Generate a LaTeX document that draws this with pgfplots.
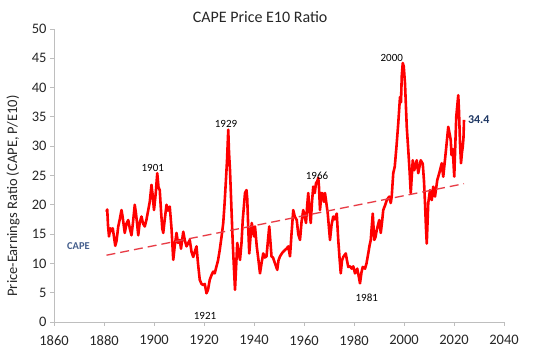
\documentclass[border=0pt]{standalone}
\usepackage{fontspec}
\setmainfont{Carlito}
\usepackage{pgfplots}
\pgfplotsset{compat=1.18}
\definecolor{capered}{RGB}{255,0,0}
\definecolor{trendred}{RGB}{232,60,70}
\definecolor{capeblue}{RGB}{68,94,140}
\definecolor{navy}{RGB}{31,56,100}
\definecolor{axgray}{RGB}{190,190,190}
\begin{document}
\begin{tikzpicture}
\path[use as bounding box] (0,0) rectangle (540pt,352pt);
\begin{axis}[
 at={(54pt,30pt)}, anchor=south west,
 scale only axis, width=450pt, height=293pt,
 xmin=1860,xmax=2040,ymin=0,ymax=50,
 axis x line*=bottom, axis y line*=left,
 axis line style={axgray, line width=0.8pt, -},
 xtick={1860,1880,...,2040}, ytick={0,5,...,50},
 tick align=outside, major tick length=4pt,
 tick style={axgray, line width=0.8pt},
 /pgf/number format/assume math mode=true,
 /pgf/number format/1000 sep={},
 tick label style={font=\fontsize{14.5}{16}\selectfont, text=black!85},
 x tick label style={yshift=-6pt},
 clip=false,
]
\addplot[capered, line width=2.6pt, line join=round] coordinates {
(1881.0,18.8) (1881.3,19.2) (1881.6,16.5) (1882.0,14.6) (1882.5,16.0) (1883.0,15.5)
(1883.5,16.0) (1884.0,14.5) (1884.5,13.0) (1885.0,13.8) (1885.7,16.3) (1886.3,17.5)
(1887.0,19.1) (1887.5,17.8) (1888.3,15.2) (1889.0,16.8) (1889.7,17.4) (1890.3,16.0)
(1891.0,14.8) (1891.6,17.0) (1892.3,20.0) (1892.8,18.5) (1893.3,16.5) (1893.7,14.8)
(1894.3,17.0) (1895.0,18.0) (1895.6,16.8) (1896.3,16.3) (1897.0,17.5) (1897.7,19.1)
(1898.3,20.5) (1899.0,23.4) (1899.5,21.5) (1900.0,19.1) (1900.7,22.0) (1901.3,25.4)
(1901.8,23.0) (1902.3,22.5) (1902.8,19.0) (1903.3,16.0) (1903.7,15.2) (1904.3,17.5)
(1905.0,20.0) (1905.6,19.0) (1906.3,19.7) (1907.0,16.0) (1907.7,10.6) (1908.3,13.0)
(1909.0,15.2) (1909.6,13.5) (1910.3,14.0) (1910.8,12.5) (1911.7,15.4) (1912.3,14.0)
(1913.0,12.9) (1913.7,13.5) (1914.3,14.0) (1915.0,12.0) (1915.7,11.1) (1916.3,12.0)
(1917.0,12.9) (1917.6,10.0) (1918.3,7.2) (1919.0,6.5) (1919.7,6.3) (1920.3,6.5)
(1921.0,4.9) (1921.6,5.5) (1922.3,7.2) (1923.0,8.0) (1923.7,8.6) (1924.3,8.3)
(1925.0,9.5) (1925.6,10.5) (1926.3,12.3) (1927.0,14.5) (1927.7,16.9) (1928.2,20.0)
(1928.7,23.7) (1929.2,27.5) (1929.7,32.8) (1930.0,29.0) (1930.4,25.9) (1931.0,19.1)
(1931.5,13.5) (1932.0,9.0) (1932.4,5.5) (1932.8,9.0) (1933.3,13.5) (1933.8,12.0)
(1934.4,10.6) (1935.0,13.5) (1935.5,17.4) (1936.4,22.0) (1937.0,22.5) (1937.3,21.0)
(1937.7,16.0) (1938.1,11.7) (1938.6,14.5) (1939.1,16.9) (1940.0,14.6) (1940.4,16.3)
(1941.1,12.9) (1941.8,10.5) (1942.4,8.3) (1943.0,10.0) (1943.7,11.7) (1944.3,11.0)
(1945.0,11.2) (1945.6,14.0) (1946.1,16.3) (1946.6,13.5) (1947.0,11.2) (1947.6,11.0)
(1948.4,10.0) (1949.3,8.9) (1949.8,10.5) (1950.4,11.2) (1951.3,11.8) (1952.4,12.3)
(1953.0,12.5) (1953.7,12.9) (1954.4,11.2) (1955.0,15.0) (1955.7,19.1) (1956.3,18.0)
(1957.1,17.4) (1957.7,15.0) (1958.4,14.0) (1959.0,17.0) (1959.7,19.1) (1960.3,18.0)
(1960.8,16.9) (1961.3,20.0) (1961.7,22.0) (1962.2,19.0) (1962.7,16.9) (1963.2,20.5)
(1963.7,23.1) (1964.3,22.0) (1964.8,23.7) (1965.3,24.0) (1965.7,24.6) (1966.0,23.0)
(1966.4,19.1) (1967.0,22.0) (1967.5,21.9) (1968.0,20.5) (1968.4,22.0) (1969.0,20.1)
(1969.5,18.5) (1970.0,16.0) (1970.4,14.0) (1971.0,16.5) (1971.7,18.0) (1972.3,17.5)
(1973.1,18.5) (1973.7,14.0) (1974.2,11.0) (1974.7,8.3) (1975.2,10.5) (1975.7,11.1)
(1976.7,11.7) (1977.2,10.5) (1977.7,9.4) (1978.4,9.5) (1979.1,9.1) (1979.7,9.5)
(1980.4,8.3) (1981.3,9.1) (1981.8,8.0) (1982.4,6.6) (1983.0,8.5) (1983.5,9.4)
(1984.4,9.1) (1985.0,10.0) (1985.7,11.7) (1986.2,13.0) (1986.7,14.0) (1987.5,18.5)
(1988.1,14.0) (1988.6,14.5) (1989.1,15.7) (1990.1,17.4) (1990.7,15.2) (1991.2,17.0)
(1991.7,19.1) (1992.5,20.0) (1993.1,20.8) (1994.1,21.4) (1994.7,20.3) (1995.1,21.5)
(1995.7,25.4) (1996.3,26.5) (1997.0,30.0) (1997.7,33.9) (1998.4,38.4) (1998.8,37.5)
(1999.1,42.0) (1999.5,44.2) (1999.9,43.6) (2000.4,40.7) (2001.1,33.3) (2001.7,29.4)
(2002.2,26.0) (2002.7,22.0) (2003.5,27.6) (2004.1,25.9) (2005.1,27.6) (2005.7,25.4)
(2006.7,27.6) (2007.5,27.0) (2008.0,24.0) (2008.4,20.3) (2008.8,16.0) (2009.1,13.4)
(2009.7,20.3) (2010.4,22.5) (2011.1,20.8) (2011.7,23.1) (2012.4,21.4) (2013.3,24.2)
(2014.1,25.4) (2015.1,27.1) (2015.7,24.8) (2016.8,29.4) (2017.7,33.3) (2018.3,32.0)
(2018.7,31.0) (2019.0,28.5) (2019.5,29.5) (2020.1,24.8) (2020.5,30.0) (2020.9,35.0)
(2021.7,38.7) (2022.0,36.0) (2022.4,30.5) (2022.8,27.1) (2023.2,29.0) (2023.5,29.9)
(2023.8,31.5) (2024.0,34.5)
};
\addplot[trendred, line width=1.3pt, dash pattern=on 9pt off 5pt] coordinates {(1881,11.4) (2024,23.6)};
\node[font=\fontsize{16}{18}\selectfont, text=black!85] at (axis description cs:0.458,1.041) {CAPE Price E10 Ratio};
\node[rotate=90, font=\fontsize{14.5}{16}\selectfont, text=black!85] at (axis description cs:-0.091,0.43) {Price-Earnings Ratio (CAPE, P/E10)};
\node[font=\bfseries\fontsize{10.5}{12}\selectfont, text=capeblue] at (axis cs:1869.8,12.9) {CAPE};
\node[font=\bfseries\fontsize{12}{14}\selectfont, text=navy, anchor=west] at (axis cs:2024.2,34.6) {34.4};
\node[font=\fontsize{11}{13}\selectfont] at (axis cs:1899.5,26.2) {1901};
\node[font=\fontsize{11}{13}\selectfont] at (axis cs:1928.8,33.8) {1929};
\node[font=\fontsize{11}{13}\selectfont] at (axis cs:1920.4,1.0) {1921};
\node[font=\fontsize{11}{13}\selectfont] at (axis cs:1965.2,25.0) {1966};
\node[font=\fontsize{11}{13}\selectfont] at (axis cs:1995.1,45.0) {2000};
\node[font=\fontsize{11}{13}\selectfont] at (axis cs:1985.1,4.2) {1981};
\end{axis}
\end{tikzpicture}
\end{document}
